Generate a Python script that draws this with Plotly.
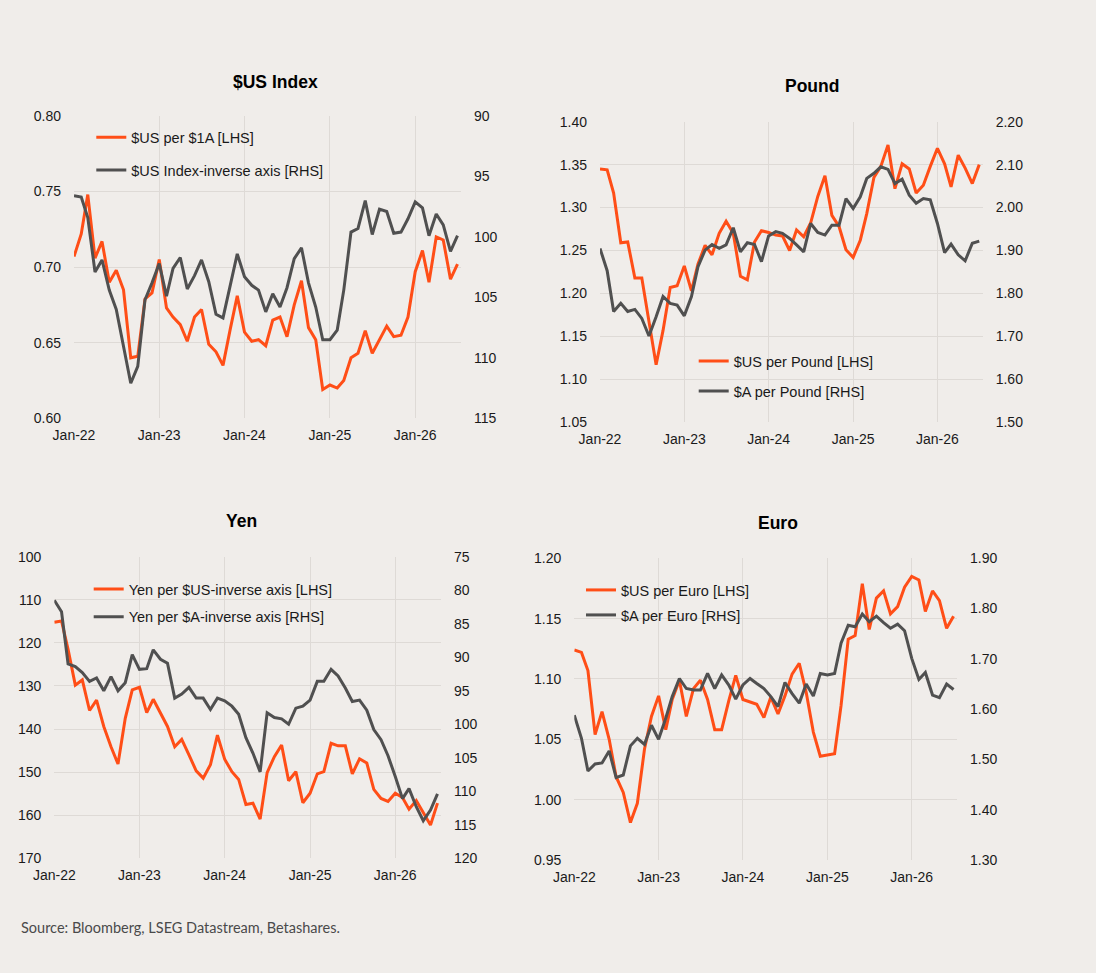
import plotly.graph_objects as go
import pandas as pd

W, H = 1096, 973

# ---------------- data (month-end, Jan-22 .. Jul-26) ----------------
months = pd.date_range("2022-01-01", periods=55, freq="MS").strftime("%Y-%m-%d").tolist()

usd_per_aud = [0.707, 0.722, 0.748, 0.706, 0.717, 0.690, 0.698, 0.685, 0.640, 0.641, 0.679, 0.683,
               0.705, 0.673, 0.667, 0.662, 0.651, 0.667, 0.672, 0.649, 0.644, 0.635, 0.659, 0.681,
               0.657, 0.651, 0.652, 0.648, 0.665, 0.667, 0.654, 0.675, 0.691, 0.660, 0.652, 0.619,
               0.622, 0.620, 0.625, 0.640, 0.643, 0.658, 0.643, 0.652, 0.661, 0.654, 0.655, 0.667,
               0.697, 0.711, 0.690, 0.720, 0.718, 0.692, 0.702]
usd_index = [96.6, 96.7, 98.4, 102.9, 101.9, 104.4, 106.0, 108.9, 112.1, 110.7, 105.2, 103.8,
             102.2, 104.9, 102.6, 101.7, 104.3, 103.2, 101.9, 103.7, 106.4, 106.7, 103.9, 101.4,
             103.3, 104.0, 104.4, 106.2, 104.7, 105.8, 104.2, 101.8, 100.9, 103.8, 105.8, 108.5,
             108.5, 107.7, 104.4, 99.6, 99.3, 97.0, 99.8, 97.7, 97.9, 99.7, 99.6, 98.5,
             97.1, 97.6, 99.9, 98.1, 99.0, 101.2, 99.9]

usd_per_gbp = [1.345, 1.344, 1.317, 1.259, 1.260, 1.218, 1.218, 1.169, 1.117, 1.157, 1.207, 1.209,
               1.232, 1.203, 1.234, 1.256, 1.245, 1.270, 1.284, 1.270, 1.220, 1.216, 1.260, 1.273,
               1.271, 1.268, 1.267, 1.250, 1.274, 1.266, 1.282, 1.313, 1.337, 1.291, 1.278, 1.251,
               1.242, 1.262, 1.293, 1.335, 1.348, 1.373, 1.322, 1.351, 1.345, 1.317, 1.326, 1.348,
               1.369, 1.351, 1.324, 1.361, 1.346, 1.328, 1.350]
aud_per_gbp = [1.905, 1.853, 1.758, 1.777, 1.758, 1.763, 1.742, 1.701, 1.746, 1.793, 1.777, 1.773,
               1.748, 1.793, 1.862, 1.901, 1.914, 1.905, 1.913, 1.953, 1.897, 1.918, 1.914, 1.874,
               1.934, 1.944, 1.940, 1.928, 1.913, 1.897, 1.963, 1.942, 1.936, 1.959, 1.959, 2.021,
               1.998, 2.025, 2.068, 2.080, 2.095, 2.089, 2.056, 2.066, 2.029, 2.010, 2.021, 2.018,
               1.963, 1.895, 1.915, 1.890, 1.876, 1.917, 1.922]

yen_per_usd = [115.2, 114.9, 121.5, 129.8, 128.6, 135.7, 133.3, 139.4, 144.1, 148.1, 137.5, 130.9,
               130.3, 136.2, 133.1, 136.3, 139.4, 144.1, 142.4, 146.0, 149.7, 151.4, 148.3, 141.4,
               147.0, 149.9, 151.7, 157.5, 157.2, 160.9, 150.1, 146.4, 143.7, 152.0, 149.9, 157.1,
               154.9, 150.4, 149.9, 143.3, 143.9, 143.9, 150.4, 146.9, 147.9, 154.0, 156.1, 156.8,
               154.9, 155.9, 158.6, 156.6, 159.4, 162.3, 157.2]
yen_per_aud = [81.5, 83.2, 91.0, 91.4, 92.3, 93.6, 93.1, 95.0, 92.9, 95.0, 93.8, 89.6,
               91.8, 91.7, 88.9, 90.3, 90.9, 96.1, 95.5, 94.5, 96.1, 96.1, 97.8, 96.1,
               96.5, 97.3, 98.5, 102.0, 104.3, 107.1, 98.3, 99.0, 99.2, 100.0, 97.6, 97.3,
               96.4, 93.6, 93.6, 91.8, 92.8, 94.6, 96.6, 96.4, 97.9, 100.8, 102.3, 104.7,
               107.8, 111.1, 109.6, 112.3, 114.4, 112.8, 110.4]

usd_per_eur = [1.124, 1.122, 1.107, 1.054, 1.073, 1.050, 1.019, 1.006, 0.981, 0.997, 1.042, 1.069,
               1.086, 1.058, 1.083, 1.099, 1.069, 1.092, 1.099, 1.083, 1.058, 1.058, 1.082, 1.103,
               1.083, 1.081, 1.079, 1.068, 1.085, 1.071, 1.086, 1.104, 1.113, 1.089, 1.056, 1.036,
               1.037, 1.038, 1.078, 1.133, 1.136, 1.179, 1.141, 1.167, 1.173, 1.154, 1.160, 1.176,
               1.185, 1.182, 1.156, 1.173, 1.165, 1.142, 1.152]
aud_per_eur = [1.588, 1.542, 1.477, 1.491, 1.493, 1.517, 1.464, 1.469, 1.527, 1.542, 1.530, 1.568,
               1.540, 1.582, 1.625, 1.661, 1.641, 1.638, 1.638, 1.671, 1.641, 1.668, 1.648, 1.620,
               1.648, 1.661, 1.651, 1.641, 1.625, 1.605, 1.653, 1.631, 1.612, 1.650, 1.626, 1.671,
               1.668, 1.671, 1.731, 1.767, 1.764, 1.789, 1.774, 1.785, 1.772, 1.761, 1.769, 1.756,
               1.701, 1.659, 1.673, 1.628, 1.623, 1.650, 1.639]

titles = ["$US Index", "Pound", "Yen", "Euro"]
names = [["$US per $1A [LHS]", "$US Index-inverse axis [RHS]"],
         ["$US per Pound [LHS]", "$A per Pound [RHS]"],
         ["Yen per $US-inverse axis [LHS]", "Yen per $A-inverse axis [RHS]"],
         ["$US per Euro [LHS]", "$A per Euro [RHS]"]]
source_text = "Source: Bloomberg, LSEG Datastream, Betashares."

# ---------------- styling ----------------
BG = "#F0EDEA"
GRID = "#DEDAD6"
ORANGE = "#FF4E17"
GREY = "#505050"
FONT = "Liberation Sans, Arial, sans-serif"
TXT = "#1A1A1A"

# plot areas in pixels: left, right, top, bottom
areas = [(74, 461, 116, 418.3), (600, 982.7, 121.7, 422.3),
         (54.3, 441, 556.7, 858.3), (574.3, 957, 558.3, 860)]
left_axes = [dict(range=[0.60, 0.80], dtick=0.05, tickformat=".2f"),
             dict(range=[1.05, 1.40], dtick=0.05, tickformat=".2f"),
             dict(range=[170, 100], dtick=10, tickformat="d"),
             dict(range=[0.95, 1.20], dtick=0.05, tickformat=".2f")]
right_axes = [dict(range=[115, 90], dtick=5, tickformat="d"),
              dict(range=[1.50, 2.20], dtick=0.1, tickformat=".2f"),
              dict(range=[120, 75], dtick=5, tickformat="d"),
              dict(range=[1.30, 1.90], dtick=0.1, tickformat=".2f")]
series = [(usd_per_aud, usd_index), (usd_per_gbp, aud_per_gbp),
          (yen_per_usd, yen_per_aud), (usd_per_eur, aud_per_eur)]
title_pos = [(275.3, 81.7), (811.5, 85.7), (241, 521), (778.3, 522.7)]
# legend rows: text start x, row centre y
legend_rows = [[(129.3, 137.3), (129.3, 170)],
               [(731.7, 361), (731.7, 391)],
               [(126.7, 589), (126.7, 616.7)],
               [(619, 590), (619, 615)]]


def px(x):
    return x / W


def py(y):
    return 1 - y / H


fig = go.Figure()
layout = dict(width=W, height=H, margin=dict(l=0, r=0, t=0, b=0, autoexpand=False),
              paper_bgcolor=BG, plot_bgcolor=BG, showlegend=True,
              font=dict(family=FONT, size=14, color=TXT))
annotations = []

for i in range(4):
    l, r, t, b = areas[i]
    xa = "xaxis" if i == 0 else f"xaxis{i+1}"
    xr = "x" if i == 0 else f"x{i+1}"
    yl_n = 2 * i + 1
    yr_n = 2 * i + 2
    yl = "yaxis" if yl_n == 1 else f"yaxis{yl_n}"
    ylr = "y" if yl_n == 1 else f"y{yl_n}"
    yr = f"yaxis{yr_n}"
    yrr = f"y{yr_n}"
    layout[xa] = dict(domain=[px(l), px(r)], anchor=ylr, type="date",
                      range=["2022-01-01", "2026-07-16"], tick0="2022-01-01", dtick="M12",
                      tickformat="%b-%y", showgrid=True, gridcolor=GRID, gridwidth=1,
                      zeroline=False, showline=False, ticks="", ticklabelstandoff=7,
                      tickfont=dict(size=14, color=TXT))
    layout[yl] = dict(domain=[py(b), py(t)], anchor=xr, showgrid=True, gridcolor=GRID,
                      gridwidth=1, zeroline=False, showline=False, ticks="",
                      ticklabelstandoff=12, tickfont=dict(size=14, color=TXT), **left_axes[i])
    layout[yr] = dict(domain=[py(b), py(t)], anchor=xr, overlaying=ylr, side="right",
                      showgrid=False, zeroline=False, showline=False, ticks="",
                      ticklabelstandoff=12, tickfont=dict(size=14, color=TXT), **right_axes[i])

    lhs, rhs = series[i]
    for j, (vals, yref, col) in enumerate([(lhs, ylr, ORANGE), (rhs, yrr, GREY)]):
        k = 2 * i + j
        lg = "legend" if k == 0 else f"legend{k + 1}"
        fig.add_trace(go.Scatter(x=months, y=vals, name=names[i][j], mode="lines",
                                 line=dict(color=col, width=3), xaxis=xr, yaxis=yref,
                                 legend=lg, hoverinfo="skip"))
        tx, ty = legend_rows[i][j]
        layout[lg] = dict(x=px(tx - 38), y=py(ty), xanchor="left", yanchor="middle",
                          bgcolor="rgba(0,0,0,0)", borderwidth=0, itemwidth=30,
                          font=dict(size=14.5, color=TXT, family=FONT))

    tx, ty = title_pos[i]
    annotations.append(dict(text=f"<b>{titles[i]}</b>", x=px(tx), y=py(ty), xref="paper",
                            yref="paper", xanchor="center", yanchor="middle", showarrow=False,
                            font=dict(size=17.5, color="#000000", family=FONT)))

annotations.append(dict(text=source_text, x=px(19), y=py(927.3), xref="paper", yref="paper",
                        xanchor="left", yanchor="middle", showarrow=False,
                        font=dict(size=14.5, color="#4A4A4A", family="Lato, sans-serif")))
layout["annotations"] = annotations
fig.update_layout(**layout)
fig.write_html("out.html", config={"displayModeBar": False},
               post_script="document.body.style.margin='0';"
                           "document.body.style.background='#F0EDEA';")
